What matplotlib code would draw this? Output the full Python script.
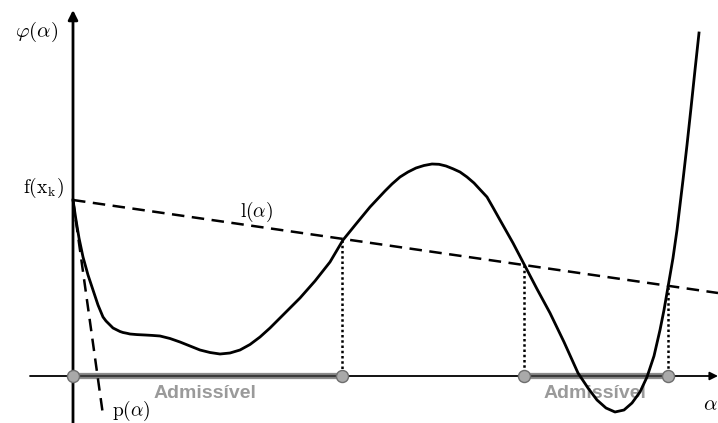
import matplotlib
matplotlib.use("Agg")
import matplotlib.pyplot as plt

plt.rcParams["mathtext.fontset"] = "cm"

# curve phi(alpha) (pixel coords, y downward)
curve_x = [73, 76, 79, 83, 88, 93, 98, 103, 106, 110, 113, 117, 120, 123, 127, 130, 137, 145,
           152, 160, 170, 180, 190, 200, 210, 220, 230, 240, 250, 260, 270, 280, 290, 300, 315,
           330, 343, 356, 370, 385, 392, 400, 408, 416, 424, 432, 439, 446, 453, 460, 467, 474,
           480, 487, 493, 500, 513, 525, 537, 550, 564, 578, 588, 597, 606, 615, 624, 632, 640,
           647, 654, 660, 664, 668, 673, 677, 680, 683, 687, 691, 695, 699]
curve_y = [200, 220, 238, 257, 275, 290, 305, 317, 321, 325, 328, 330, 331.5, 332.5, 333.3, 334,
           334.6, 335, 335.4, 336, 338.5, 342, 346, 350, 352.5, 354, 353, 350, 344.5, 337, 328,
           318, 308, 298, 281, 262, 240, 224, 207, 191, 184, 177, 172, 168, 165.5, 164, 164.3,
           166, 168.8, 172, 177, 183, 189.5, 197, 207.5, 220, 243, 266, 289, 313, 342, 373, 388,
           400, 408, 412, 410, 403, 392, 377, 356, 330, 310, 287, 258, 230, 205, 180, 145, 108,
           70, 33]

# l(alpha) and p(alpha) lines
l_x = [73, 718]
l_y = [200, 293]
p_x = [73, 103]
p_y = [200, 415]

# points where curve meets l(alpha)
cross_x = [342, 524, 668]
cross_y = [240, 265, 287]

axis_y = 376
admiss = [(73, 342), (524, 668)]
admiss_label_x = [205, 595]
node_x = [73, 342, 524, 668]

fig = plt.figure(figsize=(7.18, 4.23), dpi=100)
ax = fig.add_axes([0, 0, 1, 1])
ax.set_xlim(0, 718)
ax.set_ylim(423, 0)
ax.axis("off")

# axes with arrows
ax.annotate("", xy=(718, axis_y), xytext=(30, axis_y),
            arrowprops=dict(arrowstyle="-|>", lw=1.3, color="black", mutation_scale=12,
                            shrinkA=0, shrinkB=0))
ax.annotate("", xy=(73, 10), xytext=(73, 423),
            arrowprops=dict(arrowstyle="-|>", lw=2.0, color="black", mutation_scale=14,
                            shrinkA=0, shrinkB=0))

# admissible intervals
for a, b in admiss:
    ax.plot([a, b], [axis_y, axis_y], color="#8c8c8c", lw=4.5, solid_capstyle="butt", zorder=3)
    ax.plot([a, b], [axis_y, axis_y], color="#3a3a3a", lw=1.6, solid_capstyle="butt", zorder=3)
for lx in admiss_label_x:
    ax.text(lx, 393, "Admissível", ha="center", va="center", fontsize=14,
            fontweight="bold", family="Liberation Sans", color="#9a9a9a", zorder=2)

# dotted verticals
for cx, cy in zip(cross_x, cross_y):
    ax.plot([cx, cx], [cy, axis_y], color="black", lw=1.8, ls=(0, (1, 1.1)), zorder=2)

ax.plot(l_x, l_y, color="black", lw=1.8, ls=(0, (5, 3)), zorder=4)
ax.plot(p_x, p_y, color="black", lw=1.8, ls=(0, (5, 3)), zorder=4)
ax.plot(curve_x, curve_y, color="black", lw=2.0, solid_joinstyle="round", zorder=5)

ax.scatter(node_x, [axis_y] * len(node_x), s=75, facecolor="#a9a9a9", edgecolor="#6e6e6e",
           lw=1.0, zorder=6)

# labels
ax.text(37, 32, r"$\varphi(\alpha)$", ha="center", va="center", fontsize=15)
ax.text(43, 188, r"$\mathrm{f}(\mathrm{x}_\mathrm{k})$", ha="center", va="center", fontsize=14)
ax.text(257, 212, r"$\mathrm{l}(\alpha)$", ha="center", va="center", fontsize=14)
ax.text(131, 411, r"$\mathrm{p}(\alpha)$", ha="center", va="center", fontsize=14)
ax.text(703, 404, r"$\alpha$", ha="left", va="center", fontsize=15)

fig.savefig("out.png", dpi=100)
